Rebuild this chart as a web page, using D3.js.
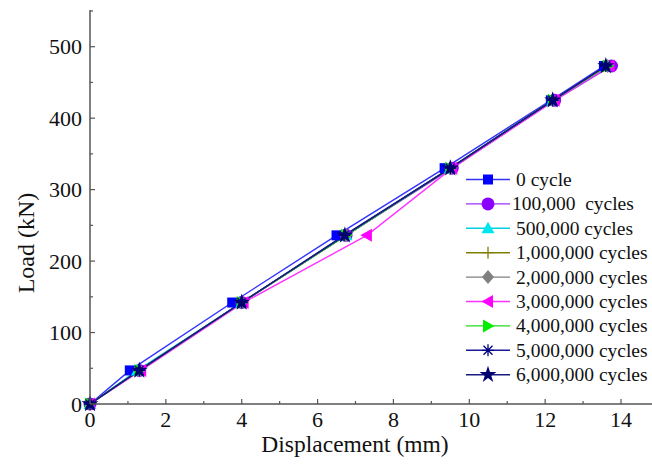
<!DOCTYPE html>
<html><head><meta charset="utf-8">
<script src="https://cdn.jsdelivr.net/npm/d3@7"></script>
<style>body{margin:0;background:#fff}svg{display:block}</style>
</head><body><svg id="c" width="652" height="470" font-family="'Liberation Serif', 'Times New Roman', Tinos, Times, serif"></svg>
<script>
const loads = [0, 47, 142, 236, 330, 425, 473];
const seriesNames = ["0 cycle","100,000  cycles","500,000 cycles","1,000,000 cycles","2,000,000 cycles","3,000,000 cycles","4,000,000 cycles","5,000,000 cycles","6,000,000 cycles"];
const disp0   = [0, 1.05, 3.75, 6.5, 9.35, 12.15, 13.55];
const disp1e5 = [0, 1.3, 4.0, 6.75, 9.55, 12.25, 13.75];
const disp5e5 = [0, 1.25, 4.0, 6.75, 9.5, 12.2, 13.65];
const disp1e6 = [0, 1.3, 4.0, 6.75, 9.5, 12.2, 13.65];
const disp2e6 = [0, 1.3, 4.0, 6.75, 9.5, 12.2, 13.65];
const disp3e6 = [0, 1.35, 4.05, 7.3, 9.55, 12.25, 13.7];
const disp4e6 = [0, 1.3, 4.0, 6.75, 9.5, 12.2, 13.65];
const disp5e6 = [0, 1.3, 4.0, 6.7, 9.5, 12.2, 13.6];
const disp6e6 = [0, 1.3, 4.0, 6.72, 9.5, 12.2, 13.6];
const xTicks = [0,2,4,6,8,10,12,14];
const yTicks = [0,100,200,300,400,500];
const colors = ["#0000ff","#8a00ff","#00e5ee","#808000","#808080","#ff00ff","#00ee00","#000080","#000070"];
const lineColors = ["#3333ff","#9a33ff","#00d0e0","#808000","#808080","#ff33ff","#22dd22","#1a1a99","#1a1a80"];
const markerTypes = ["square","circle","triangle","plus","diamond","tleft","tright","asterisk","star"];

const series = seriesNames.map((n,i)=>({name:n, disp:[disp0,disp1e5,disp5e5,disp1e6,disp2e6,disp3e6,disp4e6,disp5e6,disp6e6][i], color:colors[i], lc:lineColors[i], m:markerTypes[i]}));

const svg = d3.select("#c");
const x = d3.scaleLinear().domain([0,14]).range([90,621]);
const y = d3.scaleLinear().domain([0,500]).range([404,46.7]);
const xMax = x.invert(652), yMax = y.invert(10);

function marker(g, type, cx, cy, color){
  const s = g.append("g").attr("transform",`translate(${cx},${cy})`);
  if(type==="square") s.append("rect").attr("x",-5).attr("y",-5).attr("width",10).attr("height",10).attr("fill",color);
  else if(type==="circle") s.append("circle").attr("r",6.5).attr("fill",color);
  else if(type==="triangle") s.append("path").attr("d","M0,-6.5L6.5,5L-6.5,5Z").attr("fill",color);
  else if(type==="diamond") s.append("path").attr("d","M0,-7L6,0L0,7L-6,0Z").attr("fill",color);
  else if(type==="tleft") s.append("path").attr("d","M-6.5,0L5,-6.5L5,6.5Z").attr("fill",color);
  else if(type==="tright") s.append("path").attr("d","M6.5,0L-5,-6.5L-5,6.5Z").attr("fill",color);
  else if(type==="plus") s.append("path").attr("d","M-6,0H6M0,-6V6").attr("stroke",color).attr("stroke-width",1.3);
  else if(type==="asterisk") s.append("path").attr("d","M-6,0H6M0,-6V6M-4.5,-4.5L4.5,4.5M-4.5,4.5L4.5,-4.5").attr("stroke",color).attr("stroke-width",1.3);
  else if(type==="star") s.append("path").attr("d",d3.symbol(d3.symbolStar,90)()).attr("fill",color);
}

const line = d3.line().x(d=>x(d[0])).y(d=>y(d[1]));
series.forEach(s=>{
  const pts = s.disp.map((v,i)=>[v,loads[i]]);
  svg.append("path").attr("d",line(pts)).attr("fill","none").attr("stroke",s.lc).attr("stroke-width",1.4);
});
series.forEach(s=>{
  const g = svg.append("g");
  s.disp.forEach((v,i)=>marker(g,s.m,x(v),y(loads[i]),s.color));
});

const ax = svg.append("g").attr("stroke","#555").attr("fill","none");
ax.append("line").attr("x1",90).attr("x2",652).attr("y1",404).attr("y2",404).attr("stroke-width",1.5);
ax.append("line").attr("x1",90).attr("x2",90).attr("y1",404).attr("y2",10).attr("stroke-width",1.5);
d3.range(1, Math.floor(xMax)+1).forEach(v=>{
  const major = v%2===0;
  ax.append("line").attr("x1",x(v)).attr("x2",x(v)).attr("y1",404).attr("y2",404-(major?5:3)).attr("stroke-width",1.2);
});
d3.range(50, yMax+1, 50).forEach(v=>{
  const major = v%100===0;
  ax.append("line").attr("x1",90).attr("x2",90+(major?5:3)).attr("y1",y(v)).attr("y2",y(v)).attr("stroke-width",1.2);
});
const T = "#111";
svg.selectAll(".xt").data(xTicks).join("text").attr("fill",T).attr("x",d=>x(d)).attr("y",427).attr("text-anchor","middle").attr("font-size",22).text(d=>d);
svg.selectAll(".yt").data(yTicks).join("text").attr("fill",T).attr("x",82).attr("y",d=>y(d)+7.5).attr("text-anchor","end").attr("font-size",22).text(d=>d);
svg.append("text").attr("fill",T).attr("x",355).attr("y",452).attr("text-anchor","middle").attr("font-size",23.5).text("Displacement (mm)");
svg.append("text").attr("fill",T).attr("transform","translate(34,243) rotate(-90)").attr("text-anchor","middle").attr("font-size",24).text("Load (kN)");

series.forEach((s,i)=>{
  const ly = 179.5 + i*24.4;
  svg.append("line").attr("x1",466).attr("x2",510).attr("y1",ly).attr("y2",ly).attr("stroke",s.lc).attr("stroke-width",1.4);
  marker(svg,s.m,488,ly,s.color);
  svg.append("text").attr("fill",T).attr("x",i===1?512:516).attr("y",ly+6.5).attr("font-size",19.5).style("white-space","pre").text(s.name);
});
</script></body></html>
